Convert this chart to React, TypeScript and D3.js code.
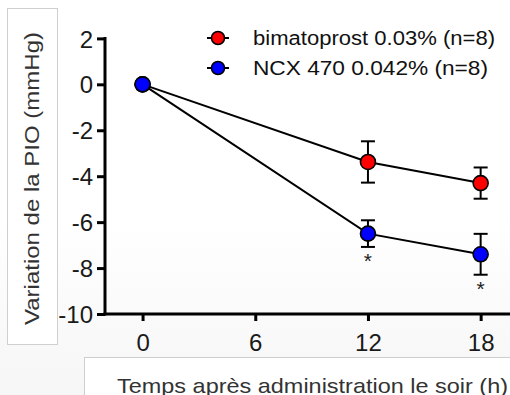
import React, { useEffect, useRef } from 'react';
import * as d3 from 'd3';

// hours after evening dosing
const hours = [0, 12, 18];
const xTicks = [0, 6, 12, 18];
const yTicks = [2, 0, -2, -4, -6, -8, -10];

const seriesNames = ['bimatoprost 0.03% (n=8)', 'NCX 470 0.042% (n=8)'];
const seriesColors = ['#ff0000', '#0000ff'];

const bimatoMean = [0, -3.38, -4.3];
const bimatoSem = [0, 0.9, 0.68];
const ncxMean = [0, -6.5, -7.4];
const ncxSem = [0, 0.58, 0.89];
const ncxStars = [false, true, true];

const W = 510;
const H = 395;

const App = () => {
  const ref = useRef<SVGSVGElement>(null);

  useEffect(() => {
    const svg = d3.select(ref.current);
    svg.selectAll('*').remove();

    const font = 'Liberation Sans, Arial, sans-serif';

    const x = d3.scaleLinear().domain([-2, 19.6]).range([105, 510.7]);
    const y = d3.scaleLinear().domain([-10, 2]).range([314, 38.4]);

    // faint background like the scanned figure
    const grad = svg.append('defs').append('linearGradient')
      .attr('id', 'bg').attr('x1', 0).attr('y1', 0).attr('x2', 0).attr('y2', 1);
    grad.append('stop').attr('offset', '0%').attr('stop-color', '#ffffff');
    grad.append('stop').attr('offset', '55%').attr('stop-color', '#ffffff');
    grad.append('stop').attr('offset', '100%').attr('stop-color', '#f6f6f6');
    svg.append('rect').attr('width', W).attr('height', H).attr('fill', 'url(#bg)');

    // title boxes
    svg.append('rect').attr('x', 7.5).attr('y', 8.5).attr('width', 50).attr('height', 336)
      .attr('fill', '#fff').attr('stroke', '#cfcfcf');
    svg.append('rect').attr('x', 84.5).attr('y', 357.5).attr('width', 440).attr('height', 50)
      .attr('fill', '#fff').attr('stroke', '#cfcfcf');

    // axes
    const fmt = (d: any) => String(d);
    const yAxis = d3.axisLeft(y).tickValues(yTicks).tickSize(8).tickPadding(4).tickFormat(fmt);
    const gy = svg.append('g').attr('transform', 'translate(105,0)').call(yAxis);
    const xAxis = d3.axisBottom(x).tickValues(xTicks).tickSize(7).tickPadding(13).tickFormat(fmt);
    const gx = svg.append('g').attr('transform', 'translate(0,314)').call(xAxis);

    [gx, gy].forEach(g => {
      g.select('.domain').remove();
      g.selectAll('.tick line').attr('stroke', '#000').attr('stroke-width', 3);
      g.selectAll('.tick text').attr('font-family', font).attr('font-size', 24).attr('fill', '#1a1a1a');
    });
    gy.selectAll('.tick text').attr('dy', '0.36em');

    svg.append('line').attr('x1', 105).attr('x2', 105).attr('y1', y(2) - 1.5).attr('y2', y(-10) + 1.5)
      .attr('stroke', '#000').attr('stroke-width', 3);
    svg.append('line').attr('x1', 103.5).attr('x2', W).attr('y1', y(-10)).attr('y2', y(-10))
      .attr('stroke', '#000').attr('stroke-width', 3);

    // axis titles
    svg.append('text')
      .attr('transform', `translate(39,${178.5}) rotate(-90)`)
      .attr('text-anchor', 'middle')
      .attr('font-family', font).attr('font-size', 21).attr('fill', '#333')
      .attr('textLength', 293).attr('lengthAdjust', 'spacingAndGlyphs')
      .text('Variation de la PIO (mmHg)');
    svg.append('text')
      .attr('x', 117).attr('y', 392.5)
      .attr('font-family', font).attr('font-size', 21).attr('fill', '#333')
      .attr('textLength', 391).attr('lengthAdjust', 'spacingAndGlyphs')
      .text('Temps après administration le soir (h)');

    const series = [
      { mean: bimatoMean, sem: bimatoSem, color: seriesColors[0] },
      { mean: ncxMean, sem: ncxSem, color: seriesColors[1] },
    ];

    const line = d3.line<number>().x((d, i) => x(hours[i])).y(d => y(d));

    series.forEach(s => {
      svg.append('path').datum(s.mean).attr('d', line)
        .attr('fill', 'none').attr('stroke', '#000').attr('stroke-width', 2);
    });

    series.forEach(s => {
      const g = svg.append('g');
      hours.forEach((h, i) => {
        if (s.sem[i] === 0) return;
        const cx = x(h);
        const top = y(s.mean[i] + s.sem[i]);
        const bot = y(s.mean[i] - s.sem[i]);
        g.append('line').attr('x1', cx).attr('x2', cx).attr('y1', top).attr('y2', bot)
          .attr('stroke', '#000').attr('stroke-width', 2);
        [top, bot].forEach(v => {
          g.append('line').attr('x1', cx - 7).attr('x2', cx + 7).attr('y1', v).attr('y2', v)
            .attr('stroke', '#000').attr('stroke-width', 2);
        });
      });
      g.selectAll('circle').data(s.mean).enter().append('circle')
        .attr('cx', (d, i) => x(hours[i])).attr('cy', d => y(d)).attr('r', 7.5)
        .attr('fill', s.color).attr('stroke', '#000').attr('stroke-width', 1.6);
    });

    // significance stars
    hours.forEach((h, i) => {
      if (!ncxStars[i]) return;
      svg.append('text')
        .attr('x', x(h)).attr('y', y(ncxMean[i] - ncxSem[i]) + 21)
        .attr('text-anchor', 'middle')
        .attr('font-family', font).attr('font-size', 21).attr('fill', '#222')
        .text('*');
    });

    // legend
    seriesNames.forEach((name, i) => {
      const ly = 38 + i * 30;
      svg.append('line').attr('x1', 207).attr('x2', 229).attr('y1', ly).attr('y2', ly)
        .attr('stroke', '#000').attr('stroke-width', 2);
      svg.append('circle').attr('cx', 218).attr('cy', ly).attr('r', 6.5)
        .attr('fill', seriesColors[i]).attr('stroke', '#000').attr('stroke-width', 1.6);
      svg.append('text').attr('x', 253).attr('y', ly).attr('dy', '0.35em')
        .attr('font-family', font).attr('font-size', 20).attr('fill', '#111')
        .attr('textLength', i === 0 ? 242 : 235).attr('lengthAdjust', 'spacingAndGlyphs')
        .text(name);
    });
  }, []);

  return (
    <svg ref={ref} width={W} height={H}
      style={{ position: 'absolute', left: 0, top: 0, display: 'block' }} />
  );
};

export default App;
